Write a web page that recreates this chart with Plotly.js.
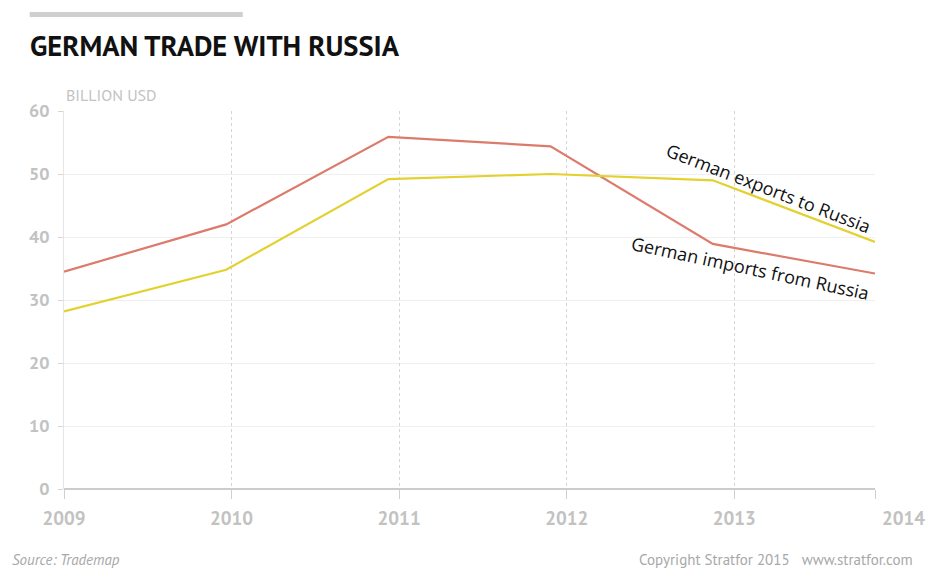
<!DOCTYPE html>
<html>
<head>
<meta charset="utf-8">
<script src="https://cdn.plot.ly/plotly-3.0.1.min.js"></script>
<style>html,body{margin:0;padding:0;background:#fff;}#chart{width:940px;height:571px;}</style>
</head>
<body>
<div id="chart"></div>
<script>
// Data
var years = [2009, 2010, 2011, 2012, 2013, 2014];
var exportsToRussia = [28.2, 34.8, 49.2, 50.0, 49.0, 39.2];
var importsFromRussia = [34.5, 42.0, 55.9, 54.4, 38.9, 34.2];
var yTicks = [0, 10, 20, 30, 40, 50, 60];
var gridYears = [2009, 2010, 2011, 2012, 2013];
var titleText = 'GERMAN TRADE WITH RUSSIA';
var unitText = 'BILLION USD';
var exportsLabel = 'German exports to Russia';
var importsLabel = 'German imports from Russia';
var sourceText = 'Source: Trademap';
var copyrightText = 'Copyright Stratfor 2015 &nbsp; www.stratfor.com';

var labelFont = 'PT Sans, Lato, "Open Sans", sans-serif';
var grey = '#c2c2c2';

// the grid axis ends a little before 2014
var gridEnd = 2013.84;
var gridVals = gridYears.concat([gridEnd]);
var gridText = gridYears.map(String).concat(['']);

var traces = [
  {x: years, y: importsFromRussia, type: 'scatter', mode: 'lines', name: importsLabel,
   line: {color: '#dc7b6c', width: 2.2}, hoverinfo: 'x+y'},
  {x: years, y: exportsToRussia, type: 'scatter', mode: 'lines', name: exportsLabel,
   line: {color: '#e2d12e', width: 2.2}, hoverinfo: 'x+y'},
  // empty helper trace so that the year grid axis is drawn
  {x: gridVals, y: gridVals.map(function(){return null;}), type: 'scatter', mode: 'lines',
   xaxis: 'x2', yaxis: 'y', hoverinfo: 'skip', showlegend: false}
];

var layout = {
  width: 940, height: 571,
  paper_bgcolor: '#fff', plot_bgcolor: '#fff',
  margin: {l: 64, r: 65, t: 111, b: 82},
  showlegend: false,
  title: {text: '<b>' + titleText + '</b>', x: 30/940, xref: 'container', xanchor: 'left',
          y: 1 - 46/571, yref: 'container', yanchor: 'middle',
          font: {family: labelFont, size: 28.5, color: '#111'}},
  xaxis: {range: [years[0], years[years.length-1]], showgrid: false, zeroline: false,
          showticklabels: false, ticks: '', showline: false, fixedrange: true},
  xaxis2: {overlaying: 'x', anchor: 'y', side: 'bottom', range: [years[0], gridEnd],
           tickmode: 'array', tickvals: gridVals, ticktext: gridText,
           showgrid: true, gridcolor: '#d4d4d4', griddash: 'dot', gridwidth: 1,
           ticks: 'outside', ticklen: 9, tickcolor: '#cfcfcf', tickwidth: 1,
           ticklabelstandoff: 3,
           tickfont: {family: labelFont, size: 19, color: grey, weight: 'bold'},
           showline: false, zeroline: false, layer: 'below traces', fixedrange: true},
  yaxis: {range: [0, 60], tickmode: 'array', tickvals: yTicks,
          showgrid: true, gridcolor: '#efefef', gridwidth: 1,
          ticks: 'outside', ticklen: 5, tickcolor: '#d6d6d6',
          ticklabelstandoff: 5,
          tickfont: {family: labelFont, size: 18, color: grey, weight: 'bold'},
          showline: true, linecolor: '#e6e6e6', linewidth: 1,
          zeroline: true, zerolinecolor: '#cccccc', zerolinewidth: 2, fixedrange: true},
  shapes: [
    {type: 'line', xref: 'paper', yref: 'paper', x0: -0.0423, x1: 0.2204, y0: 1.2553, y1: 1.2553,
     line: {color: '#cfcfcf', width: 5}}
  ],
  annotations: [
    {text: unitText, xref: 'paper', yref: 'paper', x: 0.0, y: 1.0423, xanchor: 'left', yanchor: 'middle',
     showarrow: false, font: {family: '"Liberation Sans Narrow", ' + labelFont, size: 16, color: grey}},
    {text: '2014', xref: 'paper', yref: 'paper', x: 1.0348, y: -0.0767, xanchor: 'center', yanchor: 'middle',
     showarrow: false, font: {family: labelFont, size: 19, color: grey, weight: 'bold'}},
    {text: exportsLabel, xref: 'paper', yref: 'paper', x: 0.8684, y: 0.7963, xanchor: 'center', yanchor: 'middle',
     textangle: 21, showarrow: false, font: {family: '"Open Sans", sans-serif', size: 18, color: '#111'}},
    {text: importsLabel, xref: 'paper', yref: 'paper', x: 0.8462, y: 0.5847, xanchor: 'center', yanchor: 'middle',
     textangle: 12, showarrow: false, font: {family: '"Open Sans", sans-serif', size: 18, color: '#111'}},
    {text: '<i>' + sourceText + '</i>', xref: 'paper', yref: 'paper', x: -0.067, y: -0.1878, xanchor: 'left', yanchor: 'middle',
     showarrow: false, font: {family: '"Liberation Sans Narrow", ' + labelFont, size: 15, color: '#a8a8a8'}},
    {text: copyrightText, xref: 'paper', yref: 'paper', x: 1.0497, y: -0.1878, xanchor: 'right', yanchor: 'middle',
     showarrow: false, font: {family: '"Liberation Sans Narrow", ' + labelFont, size: 15, color: '#a8a8a8'}}
  ]
};

Plotly.newPlot('chart', traces, layout, {displayModeBar: false, staticPlot: true});
</script>
</body>
</html>
